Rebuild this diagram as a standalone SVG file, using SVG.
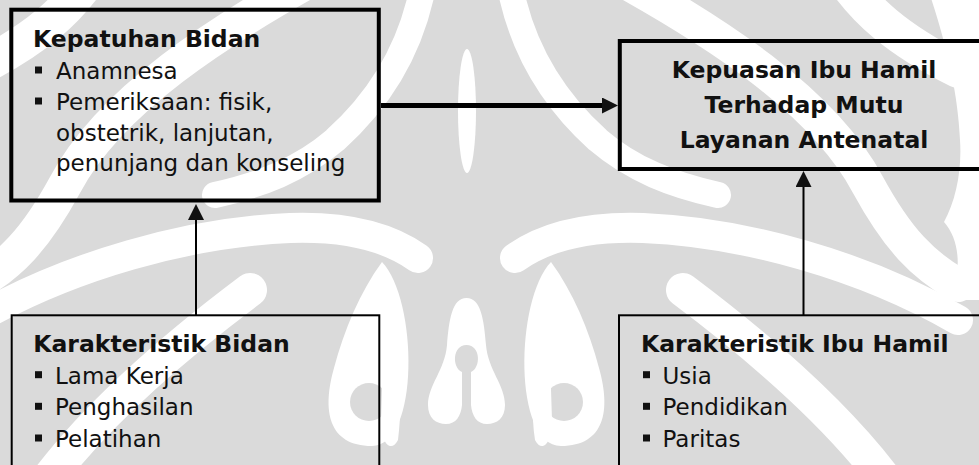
<svg xmlns="http://www.w3.org/2000/svg" width="979" height="465" viewBox="0 0 979 465">
<style>
  .box-thick { fill: none; stroke: #000; stroke-width: 4; }
  .box-thin { fill: none; stroke: #000; stroke-width: 2; }
  .title { font-family: "DejaVu Sans", Verdana, sans-serif; font-size: 23.5px; font-weight: bold; fill: #111; }
  .body { font-family: "DejaVu Sans", Verdana, sans-serif; font-size: 23px; fill: #111; }
  .bullet { fill: #111; }
  .conn-thick { fill: none; stroke: #000; stroke-width: 5; }
  .conn-thin { fill: none; stroke: #000; stroke-width: 2; }
  .wm-band { fill: none; stroke: #fff; stroke-linecap: round; }
  .wm-cut { fill: #fff; }
  .wm-gray { fill: #dadada; }
</style>
<defs>
  <marker id="arrow" viewBox="0 0 16 16" refX="0" refY="8" markerWidth="16" markerHeight="16" markerUnits="userSpaceOnUse" orient="auto">
    <path d="M0,0 L16,8 L0,16 Z" fill="#111"/>
  </marker>
  <g id="wm-half">
    <path class="wm-band" stroke-width="36" d="M95,-30 C70,10 35,40 -25,70"/>
    <path class="wm-band" stroke-width="34" d="M320,-25 C220,30 110,100 65,185 C35,240 10,265 -25,285"/>
    <path class="wm-band" stroke-width="30" d="M-25,320 C70,265 190,232 290,228 C350,226 390,238 418,258"/>
    <path class="wm-band" stroke-width="34" d="M40,490 C90,420 170,350 250,290"/>
    <path class="wm-band" stroke-width="26" d="M425,-25 C415,40 385,95 335,140 C300,170 260,185 215,195"/>
    <path class="wm-cut" d="M382,262 C418,300 420,446 372,446 C328,446 322,410 334,368 C344,330 360,292 382,262 Z"/>
    <circle class="wm-gray" cx="369" cy="402" r="19"/>
    <path class="wm-cut" d="M380,300 C395,330 405,390 398,440 C390,455 380,440 381,420 C383,380 382,340 380,300 Z"/>
  </g>
</defs>
<rect x="0" y="0" width="979" height="465" fill="#fff"/>

<g id="watermark">
  <rect class="wm-gray" x="0" y="0" width="979" height="465"/>
  <use href="#wm-half"/>
  <use href="#wm-half" transform="matrix(-1 0 0 1 933 0)"/>
  <ellipse class="wm-cut" cx="467" cy="111" rx="9" ry="62"/>
  <path class="wm-cut" d="M466.5,298 C452,298 449,320 447,345 C445,370 428,385 428,405 C428,418 436,424 446,424 C456,424 461,416 462,405 L462,372 C452,368 452,345 466.5,345 C481,345 481,368 471,372 L471,405 C472,416 477,424 487,424 C497,424 505,418 505,405 C505,385 488,370 486,345 C484,320 481,298 466.5,298 Z"/>
  <path class="wm-cut" d="M930,-5 L979,-5 L979,300 L950,300 C962,270 960,240 944,222 C956,200 962,170 960,140 C958,95 948,50 930,-5 Z"/>
</g>

<g id="connectors">
  <line class="conn-thick" x1="381" y1="105.5" x2="602" y2="105.5" marker-end="url(#arrow)"/>
  <line class="conn-thin" x1="196" y1="315" x2="196" y2="220" marker-end="url(#arrow)"/>
  <line class="conn-thin" x1="803.5" y1="315" x2="803.5" y2="187" marker-end="url(#arrow)"/>
</g>

<g id="kepatuhan-bidan">
  <rect class="box-thick" x="11.3" y="9.7" width="367.5" height="190.8"/>
  <text class="title" x="33" y="47">Kepatuhan Bidan</text>
  <rect class="bullet" x="35" y="66.5" width="7" height="7"/>
  <text class="body" x="56" y="79">Anamnesa</text>
  <rect class="bullet" x="35" y="97.5" width="7" height="7"/>
  <text class="body" x="56" y="110">Pemeriksaan: fisik,</text>
  <text class="body" x="56" y="140.5">obstetrik, lanjutan,</text>
  <text class="body" x="56" y="171">penunjang dan konseling</text>
</g>

<g id="kepuasan-ibu-hamil">
  <rect class="box-thick" x="619.8" y="41" width="400" height="128"/>
  <text class="title" x="804" y="77.5" text-anchor="middle">Kepuasan Ibu Hamil</text>
  <text class="title" x="804" y="112.5" text-anchor="middle">Terhadap Mutu</text>
  <text class="title" x="804" y="148" text-anchor="middle">Layanan Antenatal</text>
</g>

<g id="karakteristik-bidan">
  <rect class="box-thin" x="11.7" y="315.3" width="367.6" height="200"/>
  <text class="title" x="33.3" y="352">Karakteristik Bidan</text>
  <rect class="bullet" x="35" y="371.2" width="7" height="7"/>
  <text class="body" x="55" y="383.7">Lama Kerja</text>
  <rect class="bullet" x="35" y="402.8" width="7" height="7"/>
  <text class="body" x="55" y="415.3">Penghasilan</text>
  <rect class="bullet" x="35" y="434.5" width="7" height="7"/>
  <text class="body" x="55" y="447">Pelatihan</text>
</g>

<g id="karakteristik-ibu-hamil">
  <rect class="box-thin" x="619" y="315.3" width="400" height="200"/>
  <text class="title" x="641" y="352">Karakteristik Ibu Hamil</text>
  <rect class="bullet" x="643" y="371.2" width="7" height="7"/>
  <text class="body" x="662.5" y="383.7">Usia</text>
  <rect class="bullet" x="643" y="402.8" width="7" height="7"/>
  <text class="body" x="662.5" y="415.3">Pendidikan</text>
  <rect class="bullet" x="643" y="434.5" width="7" height="7"/>
  <text class="body" x="662.5" y="447">Paritas</text>
</g>
</svg>
